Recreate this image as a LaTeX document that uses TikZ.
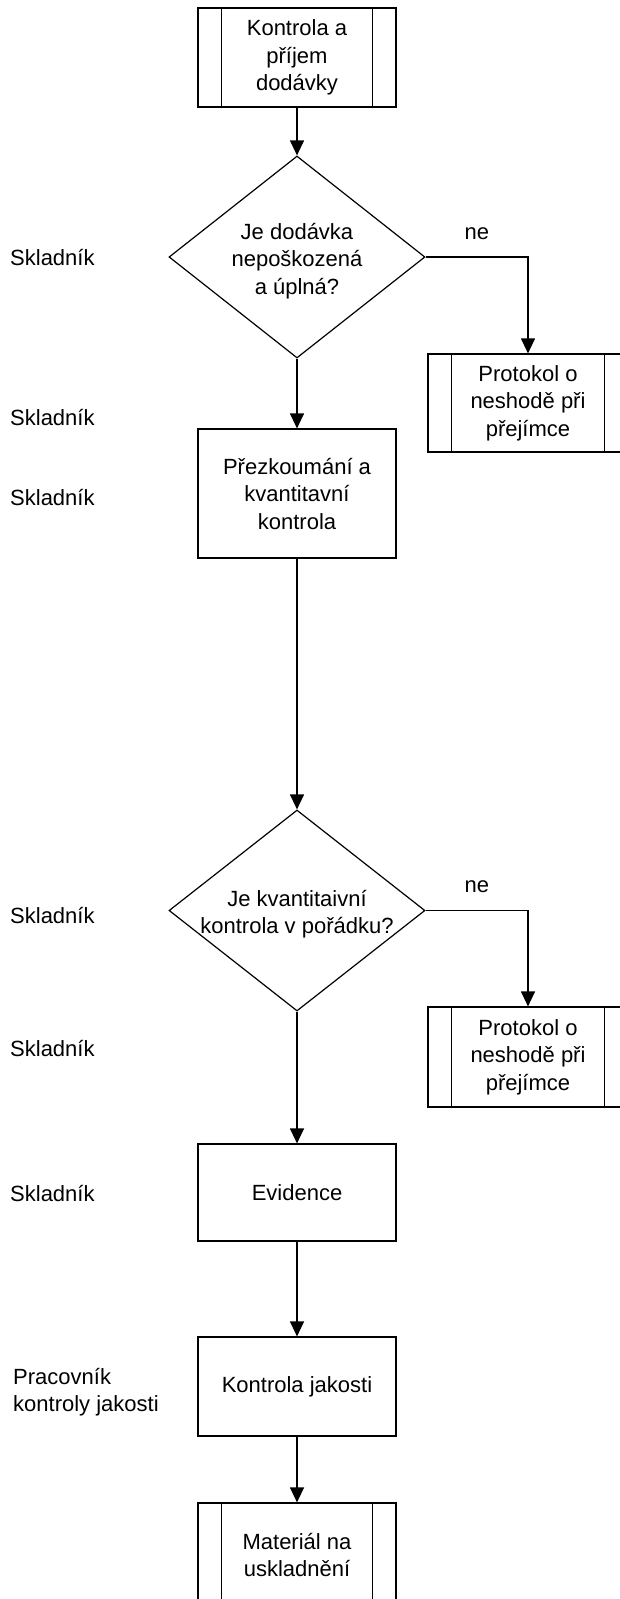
\documentclass[tikz,border=0pt]{standalone}
\usepackage{fontspec}
\setmainfont{Liberation Sans}
\usetikzlibrary{shapes.geometric,arrows.meta}
\begin{document}
\begin{tikzpicture}[x=1pt,y=-1pt,
  every node/.style={font=\fontsize{22}{27.5}\selectfont, inner sep=0pt},
  procbox/.style={draw, line width=1.2pt, minimum width=198pt, align=center},
  predef/.style={procbox, append after command={
     \pgfextra{\let\mynode\tikzlastnode}
     ([xshift=24pt]\mynode.north west) edge[draw, line width=1.2pt] ([xshift=24pt]\mynode.south west)
     ([xshift=-24pt]\mynode.north east) edge[draw, line width=1.2pt] ([xshift=-24pt]\mynode.south east)}},
  decision/.style={draw, diamond, line width=1.2pt, minimum width=256pt, minimum height=202pt},
  txt/.style={align=center},
  lbl/.style={anchor=west, align=left},
  flow/.style={line width=1.2pt, -{Triangle[width=14pt,length=15pt]}}
]
\useasboundingbox[fill=white] (0,0) rectangle (620,1599);

% main column
\node[predef, minimum height=99pt] (start) at (297,57.5) {Kontrola a\\příjem\\dodávky};
\node[decision] (d1) at (297,257) {};
\node[txt] (d1t) at (297,261) {Je dodávka\\nepoškozená\\a úplná?};
\node[predef, minimum width=200pt, minimum height=98pt] (p1) at (528,403) {Protokol o\\neshodě při\\přejímce};
\node[procbox, minimum height=129pt] (rev) at (297,493.5) {Přezkoumání a\\kvantitavní\\kontrola};
\node[decision, minimum height=201pt] (d2) at (297,910.5) {};
\node[txt] (d2t) at (297,914) {Je kvantitaivní\\kontrola v pořádku?};
\node[predef, minimum width=200pt, minimum height=100pt] (p2) at (528,1057) {Protokol o\\neshodě při\\přejímce};
\node[procbox, minimum height=97pt] (evid) at (297,1192.5) {Evidence};
\node[procbox, minimum height=99pt] (qc) at (297,1386.5) {Kontrola jakosti};
\node[predef, minimum height=104pt] (mat) at (297,1555) {Materiál na\\uskladnění};

% role labels
\node[lbl] (r1) at (10,258) {Skladník};
\node[lbl] (r2) at (10,417) {Skladník};
\node[lbl] (r3) at (10,497) {Skladník};
\node[lbl] (r4) at (10,915) {Skladník};
\node[lbl] (r5) at (10,1048) {Skladník};
\node[lbl] (r6) at (10,1193) {Skladník};
\node[lbl] (r7) at (13,1392) {Pracovník\\kontroly jakosti};

% connectors
\draw[flow] (start) -- (d1);
\draw[flow] (d1.south) -- (rev.north);
\draw[flow] (d1.east) -| node[pos=0.25, above=17pt] (ne1) {ne} (p1.north);
\draw[flow] (rev.south) -- (d2.north);
\draw[flow] (d2.east) -| node[pos=0.25, above=17pt] (ne2) {ne} (p2.north);
\draw[flow] (d2.south) -- (evid.north);
\draw[flow] (evid) -- (qc);
\draw[flow] (qc) -- (mat);
\end{tikzpicture}
\end{document}
